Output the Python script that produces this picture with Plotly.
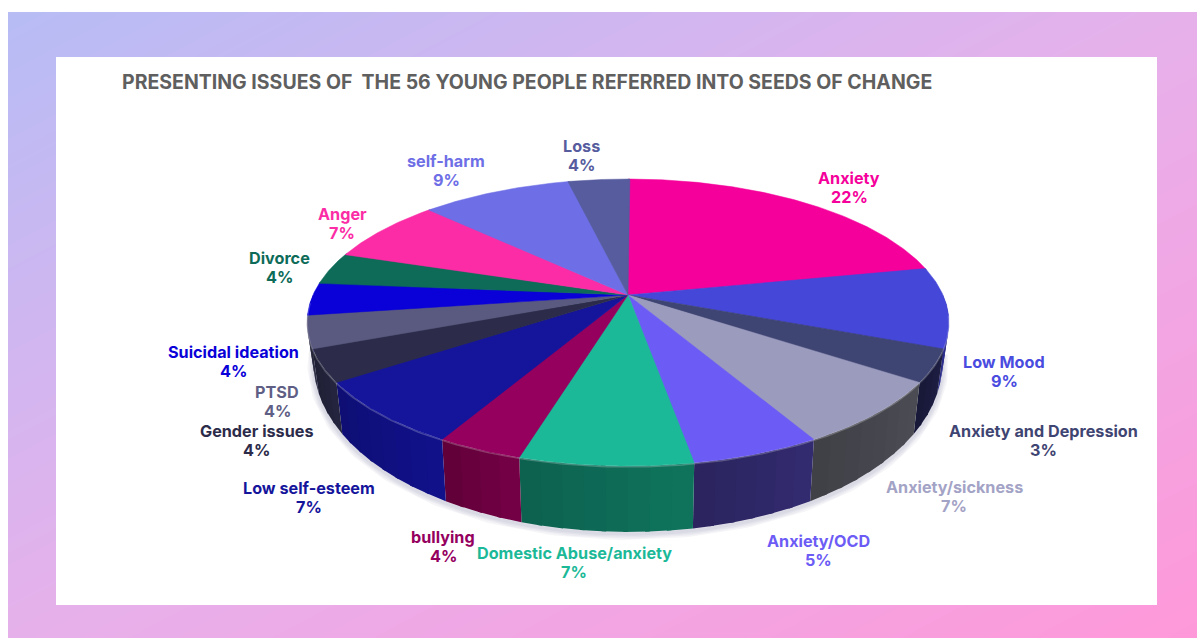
import numpy as np
import plotly.graph_objects as go

issues = ['Anxiety', 'Low Mood', 'Anxiety and Depression', 'Anxiety/sickness', 'Anxiety/OCD',
          'Domestic Abuse/anxiety', 'bullying', 'Low self-esteem', 'Gender issues', 'PTSD',
          'Suicidal ideation', 'Divorce', 'Anger', 'self-harm', 'Loss']
counts = [12, 5, 2, 4, 3, 4, 2, 4, 2, 2, 2, 2, 4, 5, 2]
percent = [22, 9, 3, 7, 5, 7, 4, 7, 4, 4, 4, 4, 7, 9, 4]

top_colors = ['#F5009B', '#4547D8', '#3F4572', '#9B9BBE', '#6C5CF5', '#1CB998', '#95005F', '#15159C',
              '#2C2C4A', '#5A5A80', '#0A00D8', '#0D6B58', '#FB2CA5', '#6E6FE6', '#565C9E']
side_colors = ['#A80069', '#2F3095', '#1B1C3E', '#46464E', '#2F2867', '#0E6B56', '#6B0040', '#101080',
               '#22223A', '#2A2A40', '#08009A', '#094C3E', '#B01F75', '#4D4EA2', '#3C406F']
label_colors = ['#F5009B', '#4A4CE0', '#3F4572', '#A3A3C6', '#6C5CF5', '#1CB998', '#95005F', '#15159C',
                '#2C2C4A', '#5F5F85', '#0A00D8', '#0D6B58', '#FB2CA5', '#6E6FE6', '#565C9E']

# label centres in pixels, worked out from the picture
label_x = [849, 1004, 1043, 954, 818, 574, 443, 309, 256, 277, 233, 279, 342, 446, 581]
label_y = [187, 371, 440, 496, 550, 562, 546, 497, 440, 401, 361, 267, 223, 170, 155]

title = 'PRESENTING ISSUES OF  THE 56 YOUNG PEOPLE REFERRED INTO SEEDS OF CHANGE'

W, H = 1197, 638
# perspective of the pie: apex and tilt of the disc
cx, cy = 628, 295
a, b, k = 315, 138.2, 0.1916
shrink = 0.98


def rim(theta):
    d = 1 + k * np.cos(theta)
    return cx + a * np.sin(theta) / d, cy - b * np.cos(theta) / d


def low_rim(theta):
    x, y = rim(theta)
    return cx + (x - cx) * shrink, y + 33 - 33 * np.cos(theta)


def shade(color, f):
    r, g, bl = [int(color[i:i + 2], 16) for i in (1, 3, 5)]
    return 'rgb(%d,%d,%d)' % (min(r * f, 255), min(g * f, 255), min(bl * f, 255))


def poly(xs, ys, color, width=1):
    return go.Scatter(x=xs, y=ys, mode='lines', fill='toself', fillcolor=color,
                      line=dict(color=color, width=width), hoverinfo='skip', showlegend=False)


fig = go.Figure()

# background gradient with the white panel on it
fig.add_trace(go.Heatmap(x=[8, W], y=[12, H], z=[[0, 0.5], [0.5, 1]], zsmooth='best', showscale=False,
                         zmin=0, zmax=1, hoverinfo='skip',
                         colorscale=[[0, '#B7BCF5'], [0.5, '#E6B1EB'], [1, '#FF98D9']]))
fig.add_trace(poly([0, 8, 8, 0, 0], [0, 0, H, H, 0], '#FFFFFF', 0))
fig.add_trace(poly([0, W, W, 0, 0], [0, 0, 12, 12, 0], '#FFFFFF', 0))
fig.add_trace(poly([56, 1157, 1157, 56, 56], [57, 57, 605, 605, 57], '#FFFFFF', 0))

# soft shadow under the front of the pie
front = np.radians(np.arange(98, 268, 1.0))
sx, sy = low_rim(front)
for w in [12, 9, 6, 3]:
    fig.add_trace(go.Scatter(x=sx, y=sy + 2, mode='lines', line=dict(color='rgba(110,110,150,0.07)', width=w),
                             hoverinfo='skip', showlegend=False))

edges = np.cumsum([0] + counts) / sum(counts) * 360

# side wall, cut in short pieces so it can darken across each slice
for i in range(len(issues)):
    start, end = max(edges[i], 90), min(edges[i + 1], 270)
    if end <= start:
        continue
    steps = np.linspace(start, end, max(int((end - start) / 3), 2) + 1)
    for j in range(len(steps) - 1):
        # pieces overlap a little, otherwise seams show between them
        t = np.radians(np.linspace(steps[j], min(steps[j + 1] + 0.7, end), 5))
        x1, y1 = rim(t)
        x2, y2 = low_rim(t)
        f = 1.08 - 0.16 * j / max(len(steps) - 2, 1)
        fig.add_trace(poly(np.r_[x1, x2[::-1]], np.r_[y1, y2[::-1]], shade(side_colors[i], f), 0))

# top of the pie
for i in range(len(issues)):
    t = np.radians(np.arange(edges[i], edges[i + 1] + 0.5, 0.5))
    x, y = rim(t)
    fig.add_trace(go.Scatter(x=np.r_[cx, x, cx], y=np.r_[cy, y, cy], mode='lines', fill='toself',
                             fillcolor=top_colors[i], line=dict(color=top_colors[i], width=0.5),
                             text='%s %d%%' % (issues[i], percent[i]), hoverinfo='text', showlegend=False))

# light bevel along the front edge
rx, ry = rim(front)
fig.add_trace(go.Scatter(x=rx, y=ry + 1, mode='lines', line=dict(color='rgba(255,255,255,0.22)', width=1.5),
                         hoverinfo='skip', showlegend=False))

# name and percent go in separate annotations to keep the tight line spacing
for i in range(len(issues)):
    fig.add_annotation(x=label_x[i], y=label_y[i] - 9, text='<b>%s</b>' % issues[i], showarrow=False,
                       font=dict(family='Inter', size=16.2, color=label_colors[i]))
    fig.add_annotation(x=label_x[i], y=label_y[i] + 9.5, text='<b>%d%%</b>' % percent[i], showarrow=False,
                       font=dict(family='Inter', size=16.2, color=label_colors[i]))

fig.add_annotation(x=120, y=82, text='<b>%s</b>' % title.replace('  ', ' &nbsp;'), xanchor='left', showarrow=False,
                   font=dict(family='Inter', size=19.5, color='#5F5F5F'))

fig.update_xaxes(range=[0, W], visible=False, fixedrange=True)
fig.update_yaxes(range=[H, 0], visible=False, fixedrange=True)
fig.update_layout(width=W, height=H, margin=dict(l=0, r=0, t=0, b=0), showlegend=False,
                  plot_bgcolor='white', paper_bgcolor='white')

fig.write_html("out.html", config=dict(displayModeBar=False),
               post_script="document.body.style.margin='0';document.body.style.overflow='hidden';")
